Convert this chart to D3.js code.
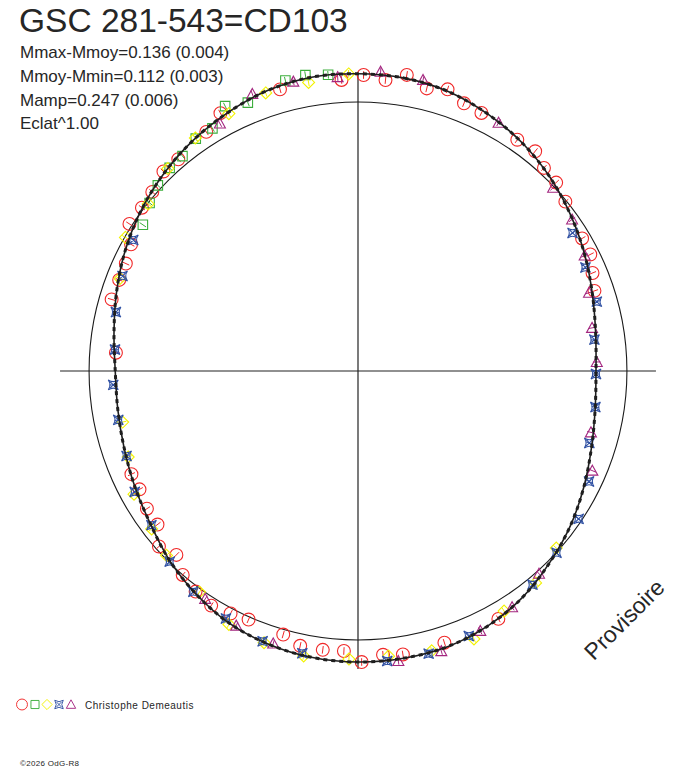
<!DOCTYPE html>
<html>
<head>
<meta charset="utf-8">
<script src="https://cdn.jsdelivr.net/npm/d3@7"></script>
<style>
  body { margin: 0; background: #fff; }
  svg text { font-family: "Liberation Sans", Arial, sans-serif; fill: #262626; }
</style>
</head>
<body>
<div class="svg-container"></div>
<script>
// mean light curve : phase (0-1) / delta mag from mean
const curvePhase = [0, 0.025, 0.05, 0.075, 0.1, 0.125, 0.15, 0.175, 0.2, 0.225,
  0.25, 0.275, 0.3, 0.325, 0.35, 0.375, 0.4, 0.425, 0.45, 0.475,
  0.5, 0.525, 0.55, 0.575, 0.6, 0.625, 0.65, 0.675, 0.7, 0.725,
  0.75, 0.775, 0.8, 0.825, 0.85, 0.875, 0.9, 0.925, 0.95, 0.975];
const curveMag = [0.137, 0.134, 0.122, 0.097, 0.068, 0.033, -0.005, -0.042, -0.076, -0.101,
  -0.112, -0.103, -0.080, -0.046, -0.008, 0.027, 0.064, 0.090, 0.106, 0.110,
  0.111, 0.107, 0.096, 0.078, 0.046, 0.010, -0.030, -0.057, -0.078, -0.090,
  -0.092, -0.074, -0.045, -0.012, 0.020, 0.050, 0.078, 0.103, 0.126, 0.138];

// observations [phase, delta mag]
const redPts = [[0.991, 0.113], [0.957, 0.116], [0.922, 0.116], [0.910, 0.078], [0.888, 0.055],
  [0.877, 0.059], [0.864, 0.034], [0.853, 0.026], [0.841, 0.030], [0.831, -0.020],
  [0.819, -0.037], [0.808, -0.038], [0.795, -0.034], [0.762, -0.092], [0.003, 0.132],
  [0.015, 0.116], [0.026, 0.149], [0.038, 0.110], [0.049, 0.130], [0.060, 0.098],
  [0.071, 0.090], [0.096, 0.068], [0.108, 0.074], [0.118, 0.045], [0.129, 0.037],
  [0.141, 0.013], [0.165, -0.018], [0.176, -0.020], [0.187, -0.044], [0.198, -0.063],
  [0.682, -0.066], [0.671, -0.068], [0.658, -0.053], [0.646, -0.051], [0.635, 0.003],
  [0.624, -0.026], [0.613, 0.018], [0.601, 0.039], [0.589, 0.051], [0.577, 0.039],
  [0.566, 0.029], [0.544, 0.039], [0.533, 0.068], [0.520, 0.069], [0.508, 0.066],
  [0.498, 0.111], [0.486, 0.085], [0.475, 0.094], [0.451, 0.086], [0.418, 0.085]];
const greenPts = [[0.961, 0.146], [0.972, 0.151], [0.984, 0.139], [0.938, 0.107], [0.926, 0.133],
  [0.914, 0.077], [0.903, 0.079], [0.891, 0.054], [0.881, 0.052], [0.869, 0.035],
  [0.858, 0.013], [0.845, -0.019]];
const yellowPts = [[0.995, 0.137], [0.973, 0.118], [0.949, 0.119], [0.926, 0.098], [0.903, 0.082],
  [0.880, 0.055], [0.857, 0.015], [0.833, 0.015], [0.809, -0.039], [0.716, -0.100],
  [0.693, -0.081], [0.670, -0.038], [0.646, -0.020], [0.628, 0.005], [0.599, 0.031],
  [0.575, 0.083], [0.553, 0.096], [0.530, 0.107], [0.505, 0.099], [0.483, 0.093],
  [0.459, 0.104], [0.435, 0.115], [0.413, 0.069], [0.389, 0.050], [0.366, 0.005]];
const bluePts = [[0.834, -0.019], [0.811, -0.045], [0.788, -0.065], [0.764, -0.087], [0.741, -0.082],
  [0.718, -0.084], [0.694, -0.076], [0.671, -0.045], [0.648, -0.029], [0.624, 0.014],
  [0.602, 0.045], [0.578, 0.067], [0.554, 0.092], [0.531, 0.097], [0.484, 0.113],
  [0.461, 0.112], [0.437, 0.095], [0.391, 0.047], [0.368, 0.019], [0.344, 0.004],
  [0.321, -0.036], [0.298, -0.094], [0.274, -0.103], [0.252, -0.112], [0.229, -0.110],
  [0.205, -0.067], [0.182, -0.062], [0.159, -0.040]];
const magentaPts = [[0.012, 0.149], [0.035, 0.141], [0.082, 0.087], [0.130, 0.013], [0.152, -0.010],
  [0.175, -0.043], [0.198, -0.087], [0.221, -0.112], [0.244, -0.108], [0.989, 0.126],
  [0.965, 0.134], [0.942, 0.134], [0.919, 0.079], [0.291, -0.100], [0.314, -0.042],
  [0.384, 0.030], [0.408, 0.073], [0.430, 0.095], [0.454, 0.116], [0.478, 0.118],
  [0.594, 0.041], [0.571, 0.074], [0.548, 0.087]];

const seriesColours = ["#f02828", "#3cae3c", "#f2f200", "#2f50a3", "#a3267f"];
const seriesShapes = ["circle", "square", "diamond", "star", "triangle"];
const errMag = 0.016;

const title = "GSC 281-543=CD103";
const statLines = ["Mmax-Mmoy=0.136 (0.004)", "Mmoy-Mmin=0.112 (0.003)", "Mamp=0.247 (0.006)", "Eclat^1.00"];
const observer = "Christophe Demeautis";
const refMag = 0.018;   // reference circle
const magMin = -0.112, magMax = 0.136;

const width = 688, height = 768;
const cx = 358, cy = 371;

const svg = d3.select(".svg-container").append("svg")
  .attr("width", width).attr("height", height);
svg.append("rect").attr("width", width).attr("height", height).attr("fill", "#fff");

const rScale = d3.scaleLinear().domain([magMin, magMax]).range([238, 297]);
const aScale = d3.scaleLinear().domain([0, 1]).range([0, 2 * Math.PI]);

const plot = svg.append("g").attr("transform", "translate(" + cx + "," + cy + ")");

// axes cross
const axLen = rScale(0.14);
plot.append("line").attr("x1", -axLen).attr("x2", axLen).attr("y1", 0).attr("y2", 0)
  .attr("stroke", "#222").attr("stroke-width", 1.2);
plot.append("line").attr("y1", -axLen).attr("y2", axLen).attr("x1", 0).attr("x2", 0)
  .attr("stroke", "#222").attr("stroke-width", 1.2);

// reference circle
plot.append("circle").attr("r", rScale(refMag))
  .attr("fill", "none").attr("stroke", "#1a1a1a").attr("stroke-width", 1.1);

// markers
function pos(d) {
  const a = aScale(d[0]), r = rScale(d[1]);
  return [r * Math.sin(a), -r * Math.cos(a)];
}
function shapePath(shape) {
  if (shape === "circle") return d3.symbol(d3.symbolCircle, 130)();
  if (shape === "square") return d3.symbol(d3.symbolSquare, 90)();
  if (shape === "diamond") return "M0,-6L6,0L0,6L-6,0Z";
  if (shape === "triangle") return "M0,-5.5L5.5,4.5L-5.5,4.5Z";
  // concave 4-point star with cross
  return "M-5,-5Q0,-1.5 5,-5Q1.5,0 5,5Q0,1.5 -5,5Q-1.5,0 -5,-5Z M-3,-3L3,3M3,-3L-3,3";
}

const allSeries = [redPts, greenPts, yellowPts, bluePts, magentaPts];
allSeries.forEach((pts, si) => {
  const g = plot.append("g");
  g.selectAll("path.mk").data(pts).enter().append("path")
    .attr("class", "mk")
    .attr("d", shapePath(seriesShapes[si]))
    .attr("transform", d => "translate(" + pos(d) + ")")
    .attr("fill", "none").attr("stroke", seriesColours[si]).attr("stroke-width", 1.1);
  // radial error bars
  g.selectAll("line.err").data(pts).enter().append("line")
    .attr("class", "err")
    .attr("x1", d => rScale(d[1] - errMag) * Math.sin(aScale(d[0])))
    .attr("y1", d => -rScale(d[1] - errMag) * Math.cos(aScale(d[0])))
    .attr("x2", d => rScale(d[1] + errMag) * Math.sin(aScale(d[0])))
    .attr("y2", d => -rScale(d[1] + errMag) * Math.cos(aScale(d[0])))
    .attr("stroke", seriesColours[si]).attr("stroke-width", 1);
});

// mean curve
const curveData = curvePhase.map((p, i) => [p, curveMag[i]]);
const radial = d3.lineRadial()
  .angle(d => aScale(d[0]))
  .radius(d => rScale(d[1]))
  .curve(d3.curveCatmullRomClosed);
plot.append("path").attr("d", radial(curveData))
  .attr("fill", "none").attr("stroke", "#1e1e1e").attr("stroke-width", 1.6);
plot.append("path").attr("d", radial(curveData))
  .attr("fill", "none").attr("stroke", "#1e1e1e").attr("stroke-width", 3)
  .attr("stroke-dasharray", "4 4");

// texts
svg.append("text").attr("x", 19).attr("y", 32)
  .style("font-size", "33.5px").text(title);
svg.selectAll("text.stat").data(statLines).enter().append("text")
  .attr("class", "stat")
  .attr("x", 20).attr("y", (d, i) => 58 + i * 23.8)
  .style("font-size", "17px").text(d => d);

svg.append("text")
  .attr("transform", "translate(630,625) rotate(-45)")
  .attr("text-anchor", "middle")
  .style("font-size", "23px").text("Provisoire");

// legend
const legend = svg.append("g").attr("id", "legend");
const legX = [22, 35, 47, 59, 71];
seriesShapes.forEach((s, i) => {
  legend.append("path")
    .attr("d", shapePath(s))
    .attr("transform", "translate(" + legX[i] + ",704.5) scale(0.85)")
    .attr("fill", "none").attr("stroke", seriesColours[i]).attr("stroke-width", 1.1);
});
legend.append("text").attr("x", 85).attr("y", 709)
  .style("font-size", "10px").style("letter-spacing", "0.5px").text(observer);

svg.append("text").attr("x", 20).attr("y", 766)
  .style("font-size", "8px").style("letter-spacing", "0.3px").text("©2026 OdG-R8");
</script>
</body>
</html>
